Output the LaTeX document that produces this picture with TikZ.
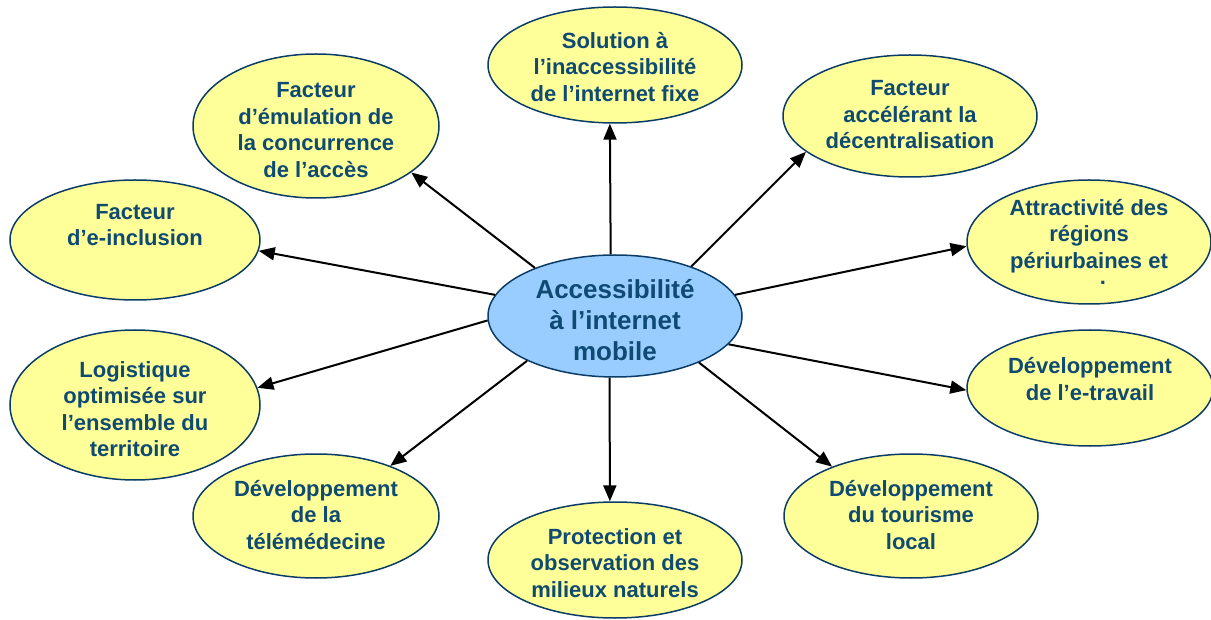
\documentclass[tikz,border=0pt]{standalone}
\usepackage{fontspec}
\setmainfont{Liberation Sans}
\usetikzlibrary{shapes.geometric,arrows.meta}
\definecolor{txtblue}{HTML}{0F4A72}
\definecolor{edgeblue}{HTML}{0B3C66}
\definecolor{bubyellow}{HTML}{FFFF99}
\definecolor{hubblue}{HTML}{99CCFF}
\tikzset{
  bub/.style={ellipse, draw=edgeblue, line width=1.5pt, fill=bubyellow, inner sep=0pt},
  hub/.style={bub, fill=hubblue},
  lbl/.style={text=txtblue, font=\bfseries\fontsize{22}{26.5}\selectfont, align=center, inner sep=0pt},
  hublbl/.style={lbl, font=\bfseries\fontsize{26}{31}\selectfont},
  arr/.style={line width=2pt, -{Triangle[length=16pt,width=13pt]}},
}
\begin{document}
\begin{tikzpicture}[x=1pt,y=-1pt]
\useasboundingbox (0,0) rectangle (1211,620);
% outer bubbles
\node[bub, minimum width=254pt, minimum height=116pt] (top) at (615,65) {};
\node[bub, minimum width=250pt, minimum height=120pt] (l) at (135,240) {};
\node[bub, minimum width=246pt, minimum height=144pt] (tl) at (316,126) {};
\node[bub, minimum width=254pt, minimum height=122pt] (tr) at (910,116) {};
\node[bub, minimum width=244pt, minimum height=124pt] (r) at (1089,242) {};
\node[bub, minimum width=250pt, minimum height=150pt] (l2) at (135,405) {};
\node[bub, minimum width=246pt, minimum height=116pt] (r2) at (1090,388) {};
\node[bub, minimum width=246pt, minimum height=124pt] (bl) at (316,516) {};
\node[bub, minimum width=254pt, minimum height=116pt] (b) at (615,560) {};
\node[bub, minimum width=254pt, minimum height=124pt] (br) at (911,516) {};
% hub
\node[hub, minimum width=254pt, minimum height=122pt] (c) at (615,316) {};
% labels
\node[lbl] (top-t) at (615,67) {Solution à\\l’inaccessibilité\\de l’internet fixe};
\node[lbl] (tl-t) at (316,130) {Facteur\\d’émulation de\\la concurrence\\de l’accès};
\node[lbl] (tr-t) at (910,115) {Facteur\\accélérant la\\décentralisation};
\node[lbl] (l-t) at (135,225) {Facteur\\d’e-inclusion};
\node[lbl] (r-t) at (1089,236) {Attractivité des\\régions\\périurbaines et};
\node[lbl, anchor=base, text height=4pt, text depth=0pt] (r-dot) at (1103,285) {.};
\node[lbl] (l2-t) at (135,409) {Logistique\\optimisée sur\\l’ensemble du\\territoire};
\node[lbl] (r2-t) at (1090,379) {Développement\\de l’e-travail};
\node[lbl] (bl-t) at (316,515) {Développement\\de la\\télémédecine};
\node[lbl] (b-t) at (615,563) {Protection et\\observation des\\milieux naturels};
\node[lbl] (br-t) at (911,515) {Développement\\du tourisme\\local};
\node[hublbl] (c-t) at (615,320) {Accessibilité\\à l’internet\\mobile};
% connectors
\draw[arr] (c.149.5) -- (tl.334);
\draw[arr] (c.94) -- (top.265);
\draw[arr] (c.33) -- (tr.199);
\draw[arr] (c.170) -- (l.355);
\draw[arr] (c.10) -- (r.182);
\draw[arr] (c.182) -- (l2.8);
\draw[arr] (c.346) -- (r2.181);
\draw[arr] (c.207) -- (bl.34);
\draw[arr] (c.265) -- (b.95);
\draw[arr] (c.331) -- (br.148);
\end{tikzpicture}
\end{document}
